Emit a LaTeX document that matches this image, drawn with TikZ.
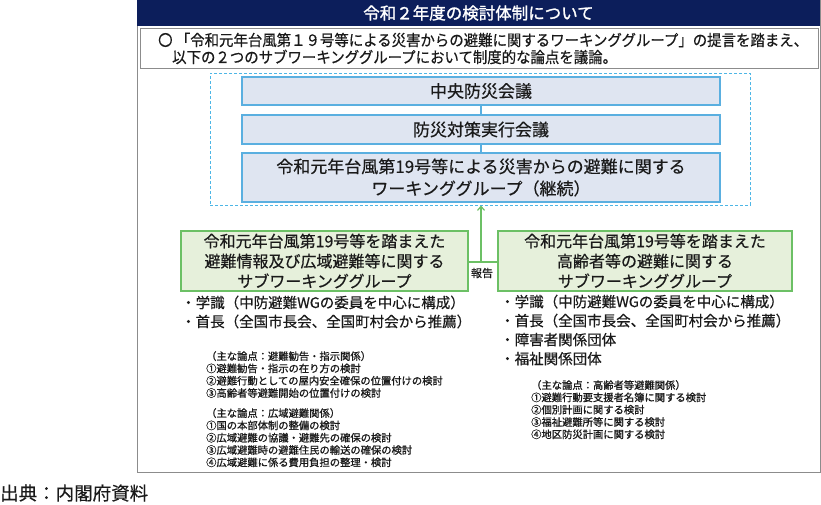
\documentclass[tikz,border=0pt]{standalone}
\usepackage{fontspec}
\setmainfont{Noto Sans CJK JP}[FakeBold=0.5]
\newfontfamily\condfont[FakeStretch=0.93,FakeBold=0.5]{Noto Sans CJK JP}
\newfontfamily\titlefont[FakeBold=1.4]{Noto Sans CJK JP}
\newfontfamily\smallfont[FakeBold=1.0]{Noto Sans CJK JP}
\usetikzlibrary{arrows.meta}
\definecolor{navy}{HTML}{0C1E5B}
\definecolor{framegray}{HTML}{8C8C8C}
\definecolor{boxblue}{HTML}{5AAFE0}
\definecolor{boxfill}{HTML}{DFE5F1}
\definecolor{dashblue}{HTML}{4DB6E6}
\definecolor{grline}{HTML}{6CC065}
\definecolor{grfill}{HTML}{E6F0DB}
\definecolor{txt}{HTML}{1A1A1A}
\tikzset{
  bluebox/.style={draw=boxblue, line width=1.2pt, fill=boxfill, inner sep=0pt, align=center, text=txt,
    font=\fontsize{17}{22}\selectfont},
  greenbox/.style={draw=grline, line width=1.2pt, fill=grfill, inner sep=0pt, align=center, text=txt,
    font=\fontsize{16}{20}\selectfont},
  bullettext/.style={anchor=west, inner sep=0pt, text=txt, font=\fontsize{14.5}{19}\selectfont, align=left},
  smalltext/.style={anchor=north west, inner sep=0pt, text=txt, font=\smallfont\fontsize{10.3}{12.3}\selectfont, align=left},
}
\begin{document}
\begin{tikzpicture}[x=1pt,y=-1pt]
\useasboundingbox (0,0) rectangle (821,504);
% outer frame
\node[draw=framegray, line width=1pt, fill=white, minimum width=683, minimum height=472, inner sep=0pt] (frame) at (478.5,236) {};
% title bar
\node[fill=navy, minimum width=683, minimum height=26, inner sep=0pt, text=white,
  font=\titlefont\fontsize{16.5}{18}\selectfont] (title) at (478.5,13) {令和２年度の検討体制について};
% intro box
\node[draw=framegray, line width=0.8pt, minimum width=678, minimum height=40, inner sep=0pt] (intro) at (479,48) {};
\node[anchor=west, inner sep=0pt, text=txt, font=\condfont\fontsize{15.5}{17}\selectfont] (intro1) at (158,40) {〇 「令和元年台風第１９号等による災害からの避難に関するワーキンググループ」の提言を踏まえ、};
\node[anchor=west, inner sep=0pt, text=txt, font=\condfont\fontsize{15.5}{17}\selectfont] (intro2) at (172,57) {以下の２つのサブワーキンググループにおいて制度的な論点を議論。};
% dashed box
\node[draw=dashblue, line width=1pt, dash pattern=on 3pt off 2pt, minimum width=540, minimum height=132, inner sep=0pt] (dash) at (480,139) {};
% blue boxes
\node[bluebox, minimum width=478, minimum height=28] (c1) at (481,91) {中央防災会議};
\node[bluebox, minimum width=478, minimum height=29] (c2) at (481,129.5) {防災対策実行会議};
\node[bluebox, minimum width=478, minimum height=49] (c3) at (481,177.5) {令和元年台風第19号等による災害からの避難に関する\\ワーキンググループ（継続）};
\draw[boxblue, line width=1.2pt] (c1) -- (c2);
\draw[boxblue, line width=1.2pt] (c2) -- (c3);
% green boxes
\node[greenbox, minimum width=287, minimum height=60] (g1) at (324.5,261) {令和元年台風第19号等を踏まえた\\避難情報及び広域避難等に関する\\サブワーキンググループ};
\node[greenbox, minimum width=294, minimum height=60] (g2) at (645,261) {令和元年台風第19号等を踏まえた\\高齢者等の避難に関する\\サブワーキンググループ};
\coordinate (j) at (481,262);
\draw[grline, line width=1.2pt] (g1.east |- j) -- (g2.west |- j);
\draw[grline, line width=1.2pt, -{Straight Barb[length=4pt,width=7pt]}] (j) -- (dash.south -| j);
\node[inner sep=0pt, text=txt, font=\fontsize{11}{13}\selectfont] (rep) at (482,273) {報告};
% bullets
\node[bullettext] (b1) at (181,312) {・学識（中防避難WGの委員を中心に構成）\\・首長（全国市長会、全国町村会から推薦）};
\node[bullettext] (b2) at (500,330) {・学識（中防避難WGの委員を中心に構成）\\・首長（全国市長会、全国町村会から推薦）\\・障害者関係団体\\・福祉関係団体};
% small texts
\node[smalltext] (s1) at (206,351) {（主な論点：避難勧告・指示関係）\\①避難勧告・指示の在り方の検討\\②避難行動としての屋内安全確保の位置付けの検討\\③高齢者等避難開始の位置付けの検討};
\node[smalltext] (s2) at (206,408) {（主な論点：広域避難関係）\\①国の本部体制の整備の検討\\②広域避難の協議・避難先の確保の検討\\③広域避難時の避難住民の輸送の確保の検討\\④広域避難に係る費用負担の整理・検討};
\node[smalltext] (s3) at (531,380) {（主な論点：高齢者等避難関係）\\①避難行動要支援者名簿に関する検討\\②個別計画に関する検討\\③福祉避難所等に関する検討\\④地区防災計画に関する検討};
% source
\node[anchor=west, inner sep=0pt, text=txt, font=\fontsize{18.5}{20}\selectfont] (src) at (0,493) {出典：内閣府資料};
\end{tikzpicture}
\end{document}
